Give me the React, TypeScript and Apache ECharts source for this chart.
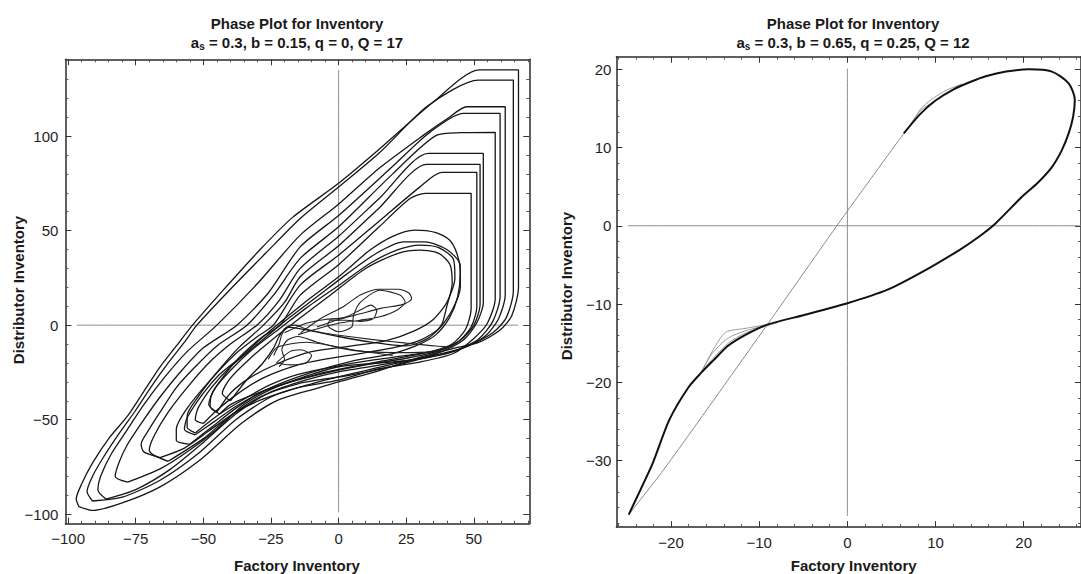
import React, { useEffect, useRef } from "react";
import * as echarts from "echarts";

const FONT = '"Liberation Sans", Arial, Helvetica, sans-serif';

// ---------- texts ----------
const titleText = "Phase Plot for Inventory";
const leftParams = " = 0.3, b = 0.15, q = 0, Q = 17";
const rightParams = " = 0.3, b = 0.65, q = 0.25, Q = 12";
const xName = "Factory Inventory";
const yName = "Distributor Inventory";

// ---------- tick values ----------
const leftXMajor = [-100, -75, -50, -25, 0, 25, 50];
const leftXMinor = [-95, -90, -85, -80, -70, -65, -60, -55, -45, -40, -35, -30, -20, -15, -10, -5, 5, 10, 15, 20, 30, 35, 40, 45, 55, 60, 65, 70];
const leftYMajor = [-100, -50, 0, 50, 100];
const leftYMinor = [-90, -80, -70, -60, -40, -30, -20, -10, 10, 20, 30, 40, 60, 70, 80, 90, 110, 120, 130, 140];
const rightXMajor = [-20, -10, 0, 10, 20];
const rightXMinor = [-26, -24, -22, -18, -16, -14, -12, -8, -6, -4, -2, 2, 4, 6, 8, 12, 14, 16, 18, 22, 24, 26];
const rightYMajor = [-30, -20, -10, 0, 10, 20];
const rightYMinor = [-38, -36, -34, -32, -28, -26, -24, -22, -18, -16, -14, -12, -8, -6, -4, -2, 2, 4, 6, 8, 12, 14, 16, 18];

// ---------- left phase plot: traced loops ----------
const loopA = [[-96,-96],[-97,-92],[-95,-84],[-91,-73],[-85,-60],[-78,-48],[-72,-35],[-66,-22],[-60,-11],[-54,0],[-43,18],[-29,40],[-17,57],[0,75],[15,93],[35,118],[52,135],[66.5,135],[66.5,20],[64,5],[59.7,-2.6],[52,-9],[42.4,-12.3],[30,-17],[15,-24],[0,-30],[-7,-33],[-23,-40],[-36,-52],[-51,-71],[-66,-85.5],[-80,-94],[-91,-98],[-96,-96]];
const loopB = [[-91,-93],[-93,-88],[-91,-80],[-87,-70],[-81,-57],[-75,-45],[-69,-32],[-63,-20],[-57,-9],[-52.4,0],[-40,19],[-27,38],[-14.2,56.4],[0,73],[15,91],[33,116],[51.7,129.6],[64.6,129.6],[64.6,18],[62,4],[57,-4],[48,-11],[40,-15],[25,-19],[10,-24],[0,-27.4],[-10,-31],[-25,-38],[-38,-50],[-52,-68],[-66,-82],[-80,-91],[-91,-93]];
const loopC = [[-86,-92],[-89,-87],[-88,-80],[-84,-68],[-78,-55],[-72,-42],[-64,-27],[-56,-14],[-45,0],[-30,22],[-14.2,47.6],[0,64],[15,83],[31.4,100.5],[40,109],[47.4,115.5],[61.6,115.5],[61.6,16],[59,3],[54,-6],[46,-12],[35,-16],[20,-20],[0,-24.7],[-12,-29],[-26,-36],[-38,-47],[-50,-62],[-62,-76],[-75,-87],[-86,-92]];
const loopD = [[-78,-83],[-82.6,-80],[-81,-72],[-78,-63],[-72,-50],[-66,-38],[-58,-24],[-50,-12],[-37.6,0],[-26,17],[-14.2,41.4],[0,58],[20,84],[33.2,101.4],[46.1,112],[59.7,112],[59.7,15],[57,2],[52,-7],[44,-13],[30,-18],[15,-20],[0,-22],[-12,-27],[-25,-34],[-35,-42],[-45,-55],[-55,-66],[-66,-76],[-78,-83]];
const loopE = [[-66,-70],[-72,-67],[-73,-63],[-70,-55],[-66,-46],[-60,-33],[-53,-22],[-45,-11],[-33.9,0],[-24,16],[-14.2,35.3],[0,52],[20,80],[36.3,100.5],[45,101.8],[57.9,102],[57.9,14],[55,1],[50,-7],[42.4,-15],[30,-19.5],[15,-23],[0,-29.1],[-15,-33],[-29,-39.7],[-38,-46],[-48,-56],[-57,-65],[-66,-70]];
const loopF = [[-63,-72],[-68,-69],[-70,-66],[-68,-58],[-63,-46],[-56,-33],[-48,-20],[-40,-10],[-30.2,0],[-22,13],[-14.2,30],[0,47],[15,67],[33.2,90.8],[53.5,90.8],[53.5,12],[51,1],[46,-8],[38,-14],[25,-20],[10,-25],[0,-27.4],[-15,-31],[-29,-37.9],[-40,-48],[-50,-60],[-63,-72]];
const loopG = [[-53,-57],[-56,-54],[-56,-48],[-52,-38],[-45,-25],[-37,-12],[-27.8,0],[-20,12],[-14.2,25.6],[0,42],[15,62],[32.6,85],[52.3,85],[52.3,11],[50,0],[45,-8],[38,-13],[25,-16],[10,-19],[0,-21.5],[-15,-26],[-26,-32],[-36,-40],[-45,-48],[-53,-57]];
const loopH = [[-55,-63],[-60,-61],[-60,-55],[-56,-44],[-48,-30],[-38,-15],[-30,-6],[-24.1,0],[-14.2,21.2],[0,37],[15,55],[30,73],[38.1,80.8],[51.1,80.8],[51.1,10],[49,-1],[44,-9],[36,-14],[25,-17.5],[10,-21],[0,-23.8],[-15,-29],[-28,-35],[-38,-44],[-47,-54],[-55,-63]];
const loopI = [[-44,-47],[-47.5,-43],[-47,-37],[-43,-28],[-36,-16],[-28,-6],[-21.6,0],[-14.2,15.9],[0,32],[15,52],[26.4,67],[32,69.7],[49,69.7],[49,9],[47,-2],[42,-10],[34,-14],[20,-18],[5,-22],[-8,-26],[-20,-31],[-32,-37],[-40,-42],[-44,-47]];
const midLoop1 = [[-53,-58],[-57,-55],[-56,-49],[-50,-36],[-44,-26],[-37.6,-18.5],[-25,-2.6],[-13,11.5],[0,25.6],[11.6,39.7],[20,47],[28,50.3],[36,49],[41,45],[43.7,38],[45,28],[44,15],[41,4],[36,-5],[30,-10],[20,-15],[5,-19],[-10,-25],[-25,-33],[-38,-43],[-46,-51],[-53,-58]];
const midLoop2 = [[-50,-52],[-53,-50],[-52,-44],[-47,-33],[-40,-22],[-30,-10],[-20,2],[-8,15],[3,27],[14,38],[24,44],[32,44],[40,40],[44.9,32],[45,20],[42,8],[37,-2],[30,-8],[20,-12],[8,-15],[-5,-18],[-15,-21],[-28,-28],[-38,-37],[-45,-45],[-50,-52]];
const midLoop3 = [[-45,-46],[-48,-42],[-46,-34],[-40,-24],[-32,-13],[-22,-2],[-12,9],[0,21],[12,33],[22,40],[30,42.3],[37,41],[42.4,35],[43,25],[40,12],[35,3],[28,-3],[18,-8],[5,-11],[-10,-14],[-22,-20],[-33,-28],[-40,-36],[-45,-46]];
const midLoop4 = [[-40,-40],[-43,-36],[-40,-28],[-33,-18],[-24,-7],[-14,4],[-3,16],[10,30],[22,38],[30,39.7],[37,38],[41.2,32],[42,22],[40,10],[38,0],[33,-7],[25,-11],[12,-9],[0,-6],[-10,-3],[-19,-1],[-22,-6],[-24,-12],[-28,-20],[-34,-29],[-40,-40]];
const knotA = [[-24,-16],[-22,-10],[-21,-5],[-19,-1],[-16,0],[-12,-2],[-6,-4],[0,-5.3],[12,-7.5],[25,-9.5],[36,-11],[42.4,-11.5]];
const knotB = [[-22,-22],[-20,-18],[-21,-13],[-19,-8],[-15,-6],[-8,-9],[0,-12],[10,-14],[25,-14.5],[38,-14]];
const knotC = [[-26,-18],[-23,-12],[-18,-10],[-12,-9],[-6,-10],[5,-13],[20,-16]];
const knotD = [[-23,-20],[-18,-14],[-14,-13],[-10,-16],[-12,-20],[-18,-21],[-23,-20]];
const spiral = [[-20,-4],[-12,1],[-5,3],[2,4],[8,8],[12,10.6],[14.1,7.9],[12.9,3.5],[7.9,2],[3,2.6],[-3.1,2.6],[-4,0],[0,-3.5],[4.9,-0.9],[5.5,5],[8,12],[15.3,18.5],[22.7,15.9],[24.6,12.3],[21.5,7.9],[15.3,4.4],[7.9,2.6],[0,1],[-8,-2],[-15,-5]];
const innerLoop = [[-14,-4],[-6,4],[2,10],[8,16],[15,19],[22,19],[26,17],[27,14],[24,11],[16,9],[8,6],[0,3],[-8,-1]];

// ---------- right phase plot: traced limit cycle ----------
const rightDark = [[6.4,11.8],[8.2,14.2],[10,16],[12,17.4],[14,18.4],[15.7,19.1],[18,19.7],[20.6,20],[23.2,19.7],[25.1,18.2],[25.8,16.1],[25.6,13.9],[25.1,11.8],[24.3,9.6],[23.2,7.5],[21.6,5.5],[19.8,3.7],[16.8,0.3],[14.8,-1.5],[12.7,-3.1],[8.5,-5.9],[4.5,-8.2],[0,-9.9],[-4.9,-11.4],[-9,-12.6],[-11.5,-13.9],[-13.5,-15.3],[-15.2,-17.2],[-16.6,-18.8],[-18,-20.6],[-20.2,-24.8],[-22.1,-30.4],[-23.5,-33.8],[-24.8,-36.9]];
const rightThin = [[-24.8,-36.9],[-20.6,-30.8],[-9,-12.5],[-0.75,0.7],[6.4,11.8]];
const wedgeLow1 = [[-8,-12.4],[-11.5,-13.1],[-13.8,-13.6],[-15.2,-15.8],[-16.6,-18.8]];
const wedgeLow2 = [[-8,-12.4],[-11.5,-13.4],[-13.6,-14.4],[-15.4,-16.4],[-16.6,-18.8]];
const wedgeLow3 = [[-8,-12.4],[-11.5,-13.7],[-13.4,-14.9],[-15.2,-16.9],[-16.6,-18.8]];
const wedgeHigh1 = [[7,12.6],[8.3,14.9],[9.5,16.1],[11.2,17.3],[13,18.1]];
const wedgeHigh2 = [[7,12.6],[8.2,14.6],[9.8,15.9],[11.5,17.1],[13,18.1]];

// axis cross lines
const leftCrossV = [[0,135],[0,-99]];
const leftCrossH = [[-96.8,0],[66.4,0]];
const rightCrossV = [[0,20.1],[0,-37.1]];
const rightCrossH = [[-24.9,0],[26.5,0]];

const fmt = (v: number) => String(v).replace("-", "\u2212");

function makeAxes(dim: "x" | "y", grid: number, min: number, max: number, major: number[], minor: number[], labelMargin: number) {
  const posA = dim === "x" ? "bottom" : "left";
  const posB = dim === "x" ? "top" : "right";
  const base = {
    type: "value",
    gridIndex: grid,
    min,
    max,
    splitLine: { show: false },
  };
  const lineStyle = { color: "#2a2a2a", width: 1.5 };
  return [
    {
      ...base,
      position: posA,
      axisLine: { show: true, onZero: false, lineStyle },
      axisTick: { show: true, inside: true, length: 6, customValues: major, lineStyle: { color: "#333", width: 1 } },
      axisLabel: { show: true, customValues: major, formatter: fmt, margin: labelMargin, color: "#1e1e1e", fontSize: 15, fontFamily: FONT },
    },
    {
      ...base,
      position: posA,
      axisLine: { show: false, onZero: false },
      axisTick: { show: true, inside: true, length: 3, customValues: minor, lineStyle: { color: "#555", width: 1 } },
      axisLabel: { show: false },
    },
    {
      ...base,
      position: posB,
      axisLine: { show: true, onZero: false, lineStyle },
      axisTick: { show: true, inside: true, length: 6, customValues: major, lineStyle: { color: "#333", width: 1 } },
      axisLabel: { show: false },
    },
    {
      ...base,
      position: posB,
      axisLine: { show: false, onZero: false },
      axisTick: { show: true, inside: true, length: 3, customValues: minor, lineStyle: { color: "#555", width: 1 } },
      axisLabel: { show: false },
    },
  ];
}

function lineSeries(data: number[][], grid: number, color: string, width: number, z = 3) {
  return {
    type: "line",
    xAxisIndex: grid * 4,
    yAxisIndex: grid * 4,
    data,
    showSymbol: false,
    symbol: "none",
    smooth: 0.25,
    lineStyle: { color, width },
    silent: true,
    z,
  };
}

export default function App() {
  const ref = useRef<HTMLDivElement>(null);
  useEffect(() => {
    if (!ref.current) return;
    const chart = echarts.init(ref.current, null, { renderer: "svg" });
    const leftLoops = [loopA, loopB, loopC, loopD, loopE, loopF, loopG, loopH, loopI, midLoop1, midLoop2, midLoop3, midLoop4];
    const leftExtra = [knotA, knotB, knotC, knotD, spiral, innerLoop];
    const series: any[] = [
      lineSeries(leftCrossV, 0, "#8c8c8c", 1, 1),
      lineSeries(leftCrossH, 0, "#8c8c8c", 1, 1),
      lineSeries(rightCrossV, 1, "#8c8c8c", 1, 1),
      lineSeries(rightCrossH, 1, "#8c8c8c", 1, 1),
      ...leftLoops.map((d) => lineSeries(d, 0, "#161616", 1.3)),
      ...leftExtra.map((d) => lineSeries(d, 0, "#222", 1.1)),
      lineSeries(rightThin, 1, "#8a8a8a", 1, 2),
      ...[wedgeLow1, wedgeLow2, wedgeLow3, wedgeHigh1, wedgeHigh2].map((d) => lineSeries(d, 1, "#9a9a9a", 1, 2)),
      lineSeries(rightDark, 1, "#111", 2),
    ];
    const sub = (params: string) => "{n|a}{s|s}{n|" + params + "}";
    const rich = {
      n: { fontSize: 15, fontWeight: "bold", fontFamily: FONT, fill: "#1a1a1a", lineHeight: 18 },
      s: { fontSize: 10, fontWeight: "bold", fontFamily: FONT, fill: "#1a1a1a", verticalAlign: "bottom", lineHeight: 10 },
    };
    const tStyle = { fontSize: 15, fontWeight: "bold", fontFamily: FONT, fill: "#1a1a1a", textAlign: "center", textVerticalAlign: "middle" };
    chart.setOption({
      animation: false,
      backgroundColor: "#ffffff",
      grid: [
        { left: 65.4, top: 59.3, width: 463.9, height: 464.4 },
        { left: 616.4, top: 56.7, width: 469.6, height: 470.4 },
      ],
      xAxis: [
        ...makeAxes("x", 0, -101, 70.5, leftXMajor, leftXMinor, 7),
        ...makeAxes("x", 1, -26.2, 26.5, rightXMajor, rightXMinor, 8),
      ],
      yAxis: [
        ...makeAxes("y", 0, -105, 140.6, leftYMajor, leftYMinor, 7),
        ...makeAxes("y", 1, -38.5, 21.6, rightYMajor, rightYMinor, 5),
      ],
      series,
      graphic: [
        { type: "text", x: 297, y: 23.4, style: { ...tStyle, text: titleText } },
        { type: "text", x: 297, y: 42, style: { text: sub(leftParams), rich, textAlign: "center", textVerticalAlign: "middle" } },
        { type: "text", x: 853, y: 23, style: { ...tStyle, text: titleText } },
        { type: "text", x: 853, y: 42, style: { text: sub(rightParams), rich, textAlign: "center", textVerticalAlign: "middle" } },
        { type: "text", x: 297, y: 565.5, style: { ...tStyle, text: xName } },
        { type: "text", x: 853.7, y: 565.5, style: { ...tStyle, text: xName } },
        { type: "text", x: 18, y: 290, rotation: Math.PI / 2, style: { ...tStyle, text: yName } },
        { type: "text", x: 566, y: 286, rotation: Math.PI / 2, style: { ...tStyle, text: yName } },
      ],
    });
    return () => chart.dispose();
  }, []);
  return <div ref={ref} style={{ position: "fixed", left: 0, top: 0, width: 1081, height: 574, background: "#fff" }} />;
}
